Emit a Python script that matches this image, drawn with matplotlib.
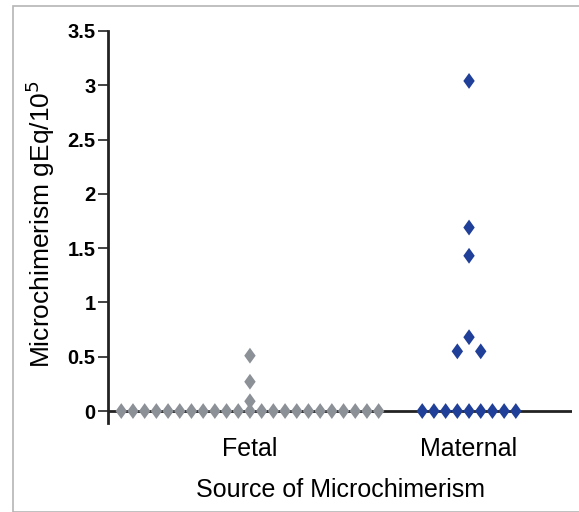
import matplotlib
matplotlib.use("Agg")
import matplotlib.pyplot as plt
from matplotlib.patches import Rectangle

plt.rcParams['font.family'] = ['Liberation Sans', 'DejaVu Sans']

categories = ["Fetal", "Maternal"]
# (offset index from category center, value)
fetal_offsets = list(range(-11, 12)) + [0, 0, 0]
fetal_values = [0.0] * 23 + [0.09, 0.27, 0.51]
maternal_offsets = list(range(-4, 5)) + [-1, 0, 1, 0, 0, 0]
maternal_values = [0.0] * 9 + [0.55, 0.68, 0.55, 1.43, 1.69, 3.04]
yticks = [0, 0.5, 1, 1.5, 2, 2.5, 3, 3.5]
ytick_labels = ["0", "0.5", "1", "1.5", "2", "2.5", "3", "3.5"]

step = 0.0534
gray = "#8c9097"
blue = "#203f98"
diamond = [(0, 1), (0.72, 0), (0, -1), (-0.72, 0), (0, 1)]

fig = plt.figure(figsize=(5.79, 5.12), dpi=100)
fig.patches.append(Rectangle((13/579, 0), 1, 1 - 6/512, transform=fig.transFigure,
                             fill=False, edgecolor="#b5b5b5", linewidth=1.2))
ax = fig.add_axes([108/579, 1 - 423/512, (572-108)/579, (423-31)/512])

ax.axhline(0, color="#222222", linewidth=2, zorder=1)
ax.scatter([1 + o * step for o in fetal_offsets], fetal_values, marker=diamond,
           s=130, color=gray, edgecolor="none", zorder=3)
ax.scatter([2 + o * step for o in maternal_offsets], maternal_values, marker=diamond,
           s=130, color=blue, edgecolor="none", zorder=3)

ax.set_xlim(0.352, 2.47)
ax.set_ylim(-0.11, 3.5)
ax.spines['top'].set_visible(False)
ax.spines['right'].set_visible(False)
ax.spines['bottom'].set_visible(False)
ax.spines['left'].set_linewidth(2)
ax.spines['left'].set_color("#222222")
ax.spines['left'].set_bounds(-0.11, 3.5)
ax.set_yticks(yticks)
ax.set_yticklabels(ytick_labels, fontsize=14.5, fontweight='bold')
ax.tick_params(axis='y', length=7, width=1.2, pad=2, color="#222222")
ax.set_xticks([1, 2])
ax.set_xticklabels(categories, fontsize=18)
ax.tick_params(axis='x', length=0, pad=10)
ax.set_ylabel("Microchimerism gEq/10$^5$", fontsize=19, va='center')
ax.yaxis.set_label_coords((40-108)/464, (423-224)/392)
ax.set_xlabel("Source of Microchimerism", fontsize=18, va='center')
ax.xaxis.set_label_coords((340-108)/464, (423-490)/392)

fig.savefig("out.png", dpi=100)
